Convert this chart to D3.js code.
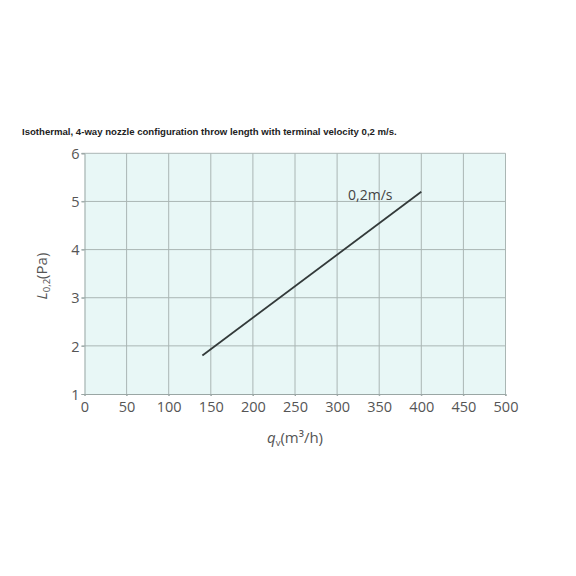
<!DOCTYPE html>
<html><head><meta charset="utf-8">
<script src="https://cdn.jsdelivr.net/npm/d3@7"></script>
<style>body{margin:0;background:#fff}</style>
</head><body>
<svg id="c" width="576" height="576"></svg>
<script>
const title = "Isothermal, 4-way nozzle configuration throw length with terminal velocity 0,2 m/s.";
const xTicks = [0,50,100,150,200,250,300,350,400,450,500];
const yTicks = [1,2,3,4,5,6];
const seriesName = "0,2m/s";
const qv = [140, 400];
const L = [1.8, 5.2];

const svg = d3.select("#c");
const x = d3.scaleLinear().domain([0,500]).range([84.5,505.5]);
const y = d3.scaleLinear().domain([1,6]).range([394,153.3]);

svg.append("text").attr("x",22).attr("y",135).attr("font-family","Liberation Sans, Arial, sans-serif")
  .attr("font-weight","bold").attr("font-size","9.6px").attr("fill","#222").text(title);

svg.append("rect").attr("x",x(0)).attr("y",y(6)).attr("width",x(500)-x(0)).attr("height",y(1)-y(6)).attr("fill","#e8f7f6");

const gridColor = "#aab6b4";
svg.append("g").selectAll("line").data(xTicks.slice(1)).join("line")
  .attr("x1",d=>x(d)).attr("x2",d=>x(d)).attr("y1",y(6)).attr("y2",y(1)+2)
  .attr("stroke",gridColor).attr("stroke-width",1);
svg.append("g").selectAll("line").data(yTicks.slice(1)).join("line")
  .attr("x1",x(0)-3).attr("x2",x(500)).attr("y1",d=>y(d)).attr("y2",d=>y(d))
  .attr("stroke",gridColor).attr("stroke-width",1);

// axes
const xAxis = d3.axisBottom(x).tickValues(xTicks).tickSize(2).tickPadding(6).tickFormat(d3.format("d"));
const gx = svg.append("g").attr("transform",`translate(0,${y(1)})`).call(xAxis);
const yAxis = d3.axisLeft(y).tickValues(yTicks).tickSize(3).tickPadding(2).tickFormat(d3.format("d"));
const gy = svg.append("g").attr("transform",`translate(${x(0)},0)`).call(yAxis);
[gx,gy].forEach(g=>{
  g.select(".domain").attr("stroke","#9aa6a4");
  g.selectAll(".tick line").attr("stroke","#9aa6a4");
  g.selectAll(".tick text").attr("font-family","Open Sans, sans-serif").attr("font-size","14.5px").attr("fill","#555");
});
gy.selectAll(".tick text").attr("dy","0.36em");

// line
const line = d3.line().x(d=>x(d[0])).y(d=>y(d[1]));
svg.append("path").datum(qv.map((v,i)=>[v,L[i]])).attr("d",line)
  .attr("fill","none").attr("stroke","#333a3a").attr("stroke-width",1.8);
svg.append("text").attr("x",x(313)).attr("y",y(5.04)).attr("font-family","Open Sans, sans-serif")
  .attr("font-size","14px").attr("fill","#444").text(seriesName);

// axis labels
const xl = svg.append("text").attr("x",x(250)).attr("y",443).attr("text-anchor","middle")
  .attr("font-family","Open Sans, sans-serif").attr("font-size","15px").attr("fill","#555");
xl.append("tspan").attr("font-style","italic").text("q");
xl.append("tspan").attr("font-size","9.5px").attr("dy","3").text("v");
xl.append("tspan").attr("dy","-3").text("(m³/h)");

const yl = svg.append("text").attr("transform",`translate(47,${y(3.45)}) rotate(-90)`).attr("text-anchor","middle")
  .attr("font-family","Open Sans, sans-serif").attr("font-size","15px").attr("fill","#555");
yl.append("tspan").attr("font-style","italic").text("L");
yl.append("tspan").attr("font-size","9.5px").attr("dy","3").text("0,2");
yl.append("tspan").attr("dy","-3").text("(Pa)");
</script>
</body></html>
